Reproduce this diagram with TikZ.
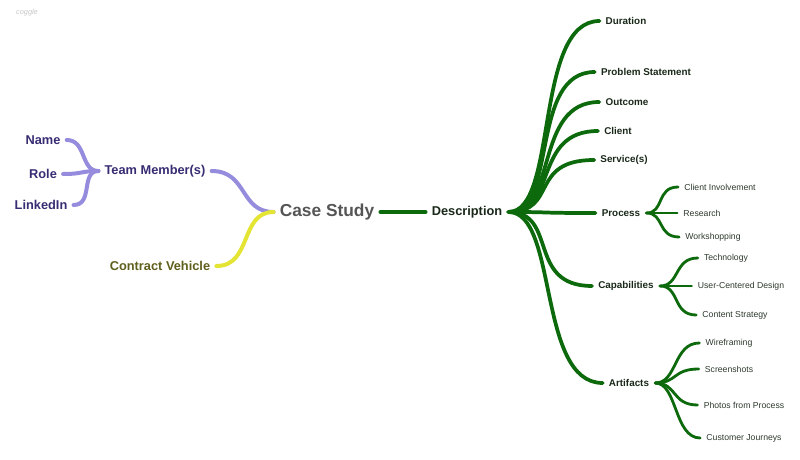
\documentclass[tikz,border=0pt]{standalone}
\usepackage{fontspec}
\setmainfont{Liberation Sans}
\usetikzlibrary{calc}

\definecolor{lilac}{RGB}{150,140,222}
\definecolor{lilactext}{RGB}{55,45,115}
\definecolor{lemon}{RGB}{228,228,52}
\definecolor{olivetext}{RGB}{95,95,30}
\definecolor{leaf}{RGB}{12,105,12}
\definecolor{leaftext}{RGB}{25,40,25}
\definecolor{roottext}{RGB}{85,85,85}

\begin{document}
\begin{tikzpicture}[%
x=0.75pt, y=-0.75pt,
every node/.style={inner ysep=2pt, inner xsep=4.5pt},
root/.style={font=\fontsize{13}{15}\selectfont\bfseries, text=roottext},
first/.style={font=\fontsize{9.6}{11}\selectfont\bfseries},
second/.style={font=\fontsize{7.4}{9}\selectfont\bfseries, text=leaftext},
third/.style={font=\fontsize{6.5}{8}\selectfont, text=leaftext!80!gray},
purplebranch/.style={draw=lilac, line width=3pt, line cap=round},
yellowbranch/.style={draw=lemon, line width=3pt, line cap=round},
greenbranch/.style={draw=leaf, line width=2.8pt, line cap=round},
twigbranch/.style={draw=leaf, line width=2.1pt, line cap=round},
]
\useasboundingbox (0,0) rectangle (800,460);
%% watermark;
\node[text=gray!45, font=\fontsize{5.5}{6}\selectfont\itshape] (mark) at (27,13) {coggle};
%% root;
\node[root] (cs) at (327,212) {Case Study};
%% left side;
\node[first, text=lilactext] (tm) at (155,171) {Team Member(s)};
\node[first, text=lilactext] (name) at (43,140) {Name};
\node[first, text=lilactext] (role) at (43,174) {Role};
\node[first, text=lilactext] (linkedin) at (41,205) {LinkedIn};
\node[first, text=olivetext] (cv) at (160,266) {Contract Vehicle};
%% right side;
\node[first, text=leaftext] (desc) at (467,212) {Description};
\node[second] (dur) at (626,21) {Duration};
\node[second] (prob) at (646,72) {Problem Statement};
\node[second] (outc) at (627,102) {Outcome};
\node[second] (client) at (618,131) {Client};
\node[second] (serv) at (624,160) {Service(s)};
\node[second] (proc) at (621,213) {Process};
\node[second] (cap) at (626,286) {Capabilities};
\node[second] (art) at (629,383) {Artifacts};
%% leaves;
\node[third] (cinv) at (720,187) {Client Involvement};
\node[third] (res) at (702,213) {Research};
\node[third] (work) at (713,237) {Workshopping};
\node[third] (tech) at (726,258) {Technology};
\node[third] (ucd) at (741,286) {User-Centered Design};
\node[third] (cstrat) at (735,315) {Content Strategy};
\node[third] (wire) at (729,343) {Wireframing};
\node[third] (shots) at (729,369) {Screenshots};
\node[third] (photos) at (744,405) {Photos from Process};
\node[third] (journ) at (744,438) {Customer Journeys};
%% branches, left;
\draw[purplebranch] (cs.west) .. controls +(-34,0) and +(36,0) .. (tm.east);
\draw[yellowbranch] (cs.west) .. controls +(-34,0) and +(36,0) .. (cv.east);
\draw[purplebranch] (tm.west) .. controls +(-18,0) and +(20,0) .. (name.east);
\draw[purplebranch] (tm.west) .. controls +(-18,0) and +(20,0) .. (role.east);
\draw[purplebranch] (tm.west) .. controls +(-18,0) and +(20,0) .. (linkedin.east);
%% branches, right;
\draw[greenbranch, line width=3pt] (cs.east) -- (desc.west);
\foreach \kid in {dur,prob,outc,client,serv,proc,cap,art}
  \draw[greenbranch] (desc.east) .. controls +(50,0) and +(-66,0) .. (\kid.west);
\foreach \kid in {cinv,res,work}
  \draw[twigbranch] (proc.east) .. controls +(18,0) and +(-22,0) .. (\kid.west);
\foreach \kid in {tech,ucd,cstrat}
  \draw[twigbranch] (cap.east) .. controls +(20,0) and +(-24,0) .. (\kid.west);
\foreach \kid in {wire,shots,photos,journ}
  \draw[twigbranch] (art.east) .. controls +(22,0) and +(-26,0) .. (\kid.west);
\end{tikzpicture}
\end{document}
